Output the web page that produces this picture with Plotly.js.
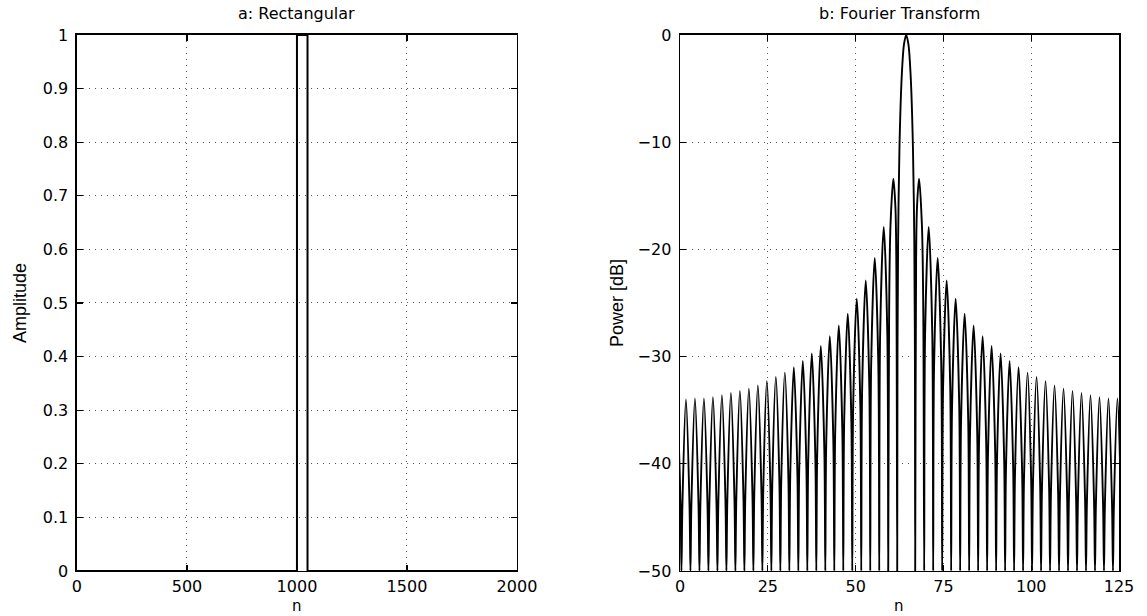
<!DOCTYPE html>
<html>
<head>
<meta charset="utf-8">
<script src="https://cdn.plot.ly/plotly-3.0.1.min.js"></script>
<style>
  html, body { margin: 0; padding: 0; background: #fff; }
  #chart { width: 1147px; height: 616px; }
</style>
</head>
<body>
<div id="chart"></div>
<script>
// ---------- Panel a: rectangular window (time domain) ----------
var sampleIndex = [0, 1000, 1000, 1048, 1048, 2000];
var amplitude   = [0, 0, 1, 1, 0, 0];

// ---------- Panel b: Fourier transform (power in dB) ----------
// each line = one lobe: null, rising shoulder, peak, falling shoulder
var freqBin = [
  -2.16, -1.90, -0.88, 0.14,
  0.40, 0.66, 1.68, 2.70,
  2.96, 3.22, 4.24, 5.26,
  5.52, 5.78, 6.80, 7.82,
  8.08, 8.34, 9.36, 10.38,
  10.64, 10.90, 11.92, 12.94,
  13.20, 13.46, 14.48, 15.50,
  15.76, 16.02, 17.04, 18.06,
  18.32, 18.58, 19.60, 20.62,
  20.88, 21.14, 22.16, 23.18,
  23.44, 23.70, 24.72, 25.74,
  26.00, 26.26, 27.28, 28.30,
  28.56, 28.82, 29.84, 30.86,
  31.12, 31.38, 32.40, 33.42,
  33.68, 33.94, 34.96, 35.98,
  36.24, 36.50, 37.52, 38.54,
  38.80, 39.06, 40.08, 41.10,
  41.36, 41.62, 42.64, 43.66,
  43.92, 44.18, 45.20, 46.22,
  46.48, 46.74, 47.76, 48.78,
  49.04, 49.30, 50.32, 51.34,
  51.60, 51.86, 52.88, 53.90,
  54.16, 54.42, 55.44, 56.46,
  56.72, 56.98, 58.00, 59.02,
  59.28, 59.54, 59.92, 60.74, 61.33, 61.58,
  61.84, 61.92, 62.10, 62.48, 63.12, 63.76, 64.40, 65.04, 65.68, 66.32, 66.70, 66.88,
  66.96, 67.22, 67.47, 68.06, 68.88, 69.26,
  69.52, 69.78, 70.80, 71.82,
  72.08, 72.34, 73.36, 74.38,
  74.64, 74.90, 75.92, 76.94,
  77.20, 77.46, 78.48, 79.50,
  79.76, 80.02, 81.04, 82.06,
  82.32, 82.58, 83.60, 84.62,
  84.88, 85.14, 86.16, 87.18,
  87.44, 87.70, 88.72, 89.74,
  90.00, 90.26, 91.28, 92.30,
  92.56, 92.82, 93.84, 94.86,
  95.12, 95.38, 96.40, 97.42,
  97.68, 97.94, 98.96, 99.98,
  100.24, 100.50, 101.52, 102.54,
  102.80, 103.06, 104.08, 105.10,
  105.36, 105.62, 106.64, 107.66,
  107.92, 108.18, 109.20, 110.22,
  110.48, 110.74, 111.76, 112.78,
  113.04, 113.30, 114.32, 115.34,
  115.60, 115.86, 116.88, 117.90,
  118.16, 118.42, 119.44, 120.46,
  120.72, 120.98, 122.00, 123.02,
  123.28, 123.54, 124.56, 125.58,
  125.84
];
var powerDb = [
  -50, -44.0, -34.0, -44.0,
  -50, -44.0, -34.0, -44.0,
  -50, -43.9, -33.9, -43.9,
  -50, -43.9, -33.9, -43.9,
  -50, -43.8, -33.8, -43.8,
  -50, -43.6, -33.6, -43.6,
  -50, -43.4, -33.4, -43.4,
  -50, -43.2, -33.2, -43.2,
  -50, -43.0, -33.0, -43.0,
  -50, -42.7, -32.7, -42.7,
  -50, -42.3, -32.3, -42.3,
  -50, -41.9, -31.9, -41.9,
  -50, -41.5, -31.5, -41.5,
  -50, -41.0, -31.0, -41.0,
  -50, -40.4, -30.4, -40.4,
  -50, -39.7, -29.7, -39.7,
  -50, -39.0, -29.0, -39.0,
  -50, -38.1, -28.1, -38.1,
  -50, -37.1, -27.1, -37.1,
  -50, -36.0, -26.0, -36.0,
  -50, -34.6, -24.6, -34.6,
  -50, -32.9, -22.9, -32.9,
  -50, -30.8, -20.8, -30.8,
  -50, -27.9, -17.9, -27.9,
  -50, -25.7, -17.8, -13.4, -16.1, -21.0,
  -50, -30.0, -19.2, -10.5, -3.9, -0.9, 0, -0.9, -3.9, -10.5, -19.2, -30.0,
  -50, -21.0, -16.1, -13.4, -17.8, -25.7,
  -50, -27.9, -17.9, -27.9,
  -50, -30.8, -20.8, -30.8,
  -50, -32.9, -22.9, -32.9,
  -50, -34.6, -24.6, -34.6,
  -50, -36.0, -26.0, -36.0,
  -50, -37.1, -27.1, -37.1,
  -50, -38.1, -28.1, -38.1,
  -50, -39.0, -29.0, -39.0,
  -50, -39.7, -29.7, -39.7,
  -50, -40.4, -30.4, -40.4,
  -50, -41.0, -31.0, -41.0,
  -50, -41.5, -31.5, -41.5,
  -50, -41.9, -31.9, -41.9,
  -50, -42.3, -32.3, -42.3,
  -50, -42.7, -32.7, -42.7,
  -50, -43.0, -33.0, -43.0,
  -50, -43.2, -33.2, -43.2,
  -50, -43.4, -33.4, -43.4,
  -50, -43.6, -33.6, -43.6,
  -50, -43.8, -33.8, -43.8,
  -50, -43.9, -33.9, -43.9,
  -50, -43.9, -33.9, -43.9,
  -50
];

// ---------- Tick values / labels ----------
var ticksA_x = [0, 500, 1000, 1500, 2000];
var ticksA_y = [0, 0.1, 0.2, 0.3, 0.4, 0.5, 0.6, 0.7, 0.8, 0.9, 1];
var ticksB_x = [0, 25, 50, 75, 100, 125];
var ticksB_y = [-50, -40, -30, -20, -10, 0];

var titleA = 'a: Rectangular';
var titleB = 'b: Fourier Transform';
var xLabel = 'n';
var yLabelA = 'Amplitude';
var yLabelB = 'Power [dB]';

// ---------- Styling ----------
var tickFont = {family: 'DejaVu Sans', size: 16, color: '#000'};
function axisBase(extra) {
  var a = {
    ticks: 'inside', ticklen: 6, tickwidth: 1.2, tickcolor: '#000',
    showline: true, linecolor: '#000', linewidth: 1.5, mirror: 'ticks',
    zeroline: false, tickfont: tickFont, ticklabelstandoff: 4,
    showgrid: true, gridcolor: '#555', griddash: '1px,5px', gridwidth: 1,
    fixedrange: true
  };
  for (var k in extra) a[k] = extra[k];
  return a;
}

var traces = [
  {x: sampleIndex, y: amplitude, type: 'scatter', mode: 'lines',
   line: {color: '#000', width: 2}, xaxis: 'x', yaxis: 'y', hoverinfo: 'skip'},
  {x: freqBin, y: powerDb, type: 'scatter', mode: 'lines',
   line: {color: '#000', width: 1.9, shape: 'spline', smoothing: 0.9},
   xaxis: 'x2', yaxis: 'y2', hoverinfo: 'skip'}
];

var labelFont = {family: 'DejaVu Sans', size: 16, color: '#000'};
var nFont = {family: 'DejaVu Sans', size: 15, color: '#000'};
var ylabFont = {family: 'Liberation Sans Narrow, Liberation Sans', size: 18, color: '#000'};

var layout = {
  width: 1147, height: 616,
  margin: {l: 0, r: 0, t: 0, b: 0},
  paper_bgcolor: '#fff', plot_bgcolor: '#fff',
  showlegend: false,
  xaxis: axisBase({domain: [0.0671, 0.4507], range: [0, 2000], tickvals: ticksA_x,
                   ticktext: ticksA_x.map(String), anchor: 'y', ticklabelstandoff: 0}),
  yaxis: axisBase({domain: [0.0731, 0.9432], range: [0, 1], tickvals: ticksA_y,
                   ticktext: ticksA_y.map(String), anchor: 'x'}),
  xaxis2: axisBase({domain: [0.5929, 0.9756], range: [0, 125], tickvals: ticksB_x,
                    ticktext: ticksB_x.map(String), anchor: 'y2', ticklabelstandoff: 0}),
  yaxis2: axisBase({domain: [0.0731, 0.9432], range: [-50, 0], tickvals: ticksB_y,
                    ticktext: ticksB_y.map(function (v) { return v < 0 ? '\u2212' + (-v) : String(v); }),
                    anchor: 'x2'}),
  annotations: [
    {text: titleA, xref: 'paper', yref: 'paper', x: 0.2589, y: 0.9773,
     xanchor: 'center', yanchor: 'middle', showarrow: false, font: labelFont},
    {text: titleB, xref: 'paper', yref: 'paper', x: 0.7842, y: 0.9773,
     xanchor: 'center', yanchor: 'middle', showarrow: false, font: labelFont},
    {text: xLabel, xref: 'paper', yref: 'paper', x: 0.2589, y: 0.0, yshift: 0,
     xanchor: 'center', yanchor: 'bottom', showarrow: false, font: nFont, borderpad: 0},
    {text: xLabel, xref: 'paper', yref: 'paper', x: 0.7842, y: 0.0, yshift: 0,
     xanchor: 'center', yanchor: 'bottom', showarrow: false, font: nFont, borderpad: 0},
    {text: yLabelA, xref: 'paper', yref: 'paper', x: 0.0174, y: 0.508, textangle: -90,
     xanchor: 'center', yanchor: 'middle', showarrow: false, font: ylabFont},
    {text: yLabelB, xref: 'paper', yref: 'paper', x: 0.5379, y: 0.508, textangle: -90,
     xanchor: 'center', yanchor: 'middle', showarrow: false, font: ylabFont}
  ]
};

Plotly.newPlot('chart', traces, layout, {staticPlot: true, displayModeBar: false});
</script>
</body>
</html>
